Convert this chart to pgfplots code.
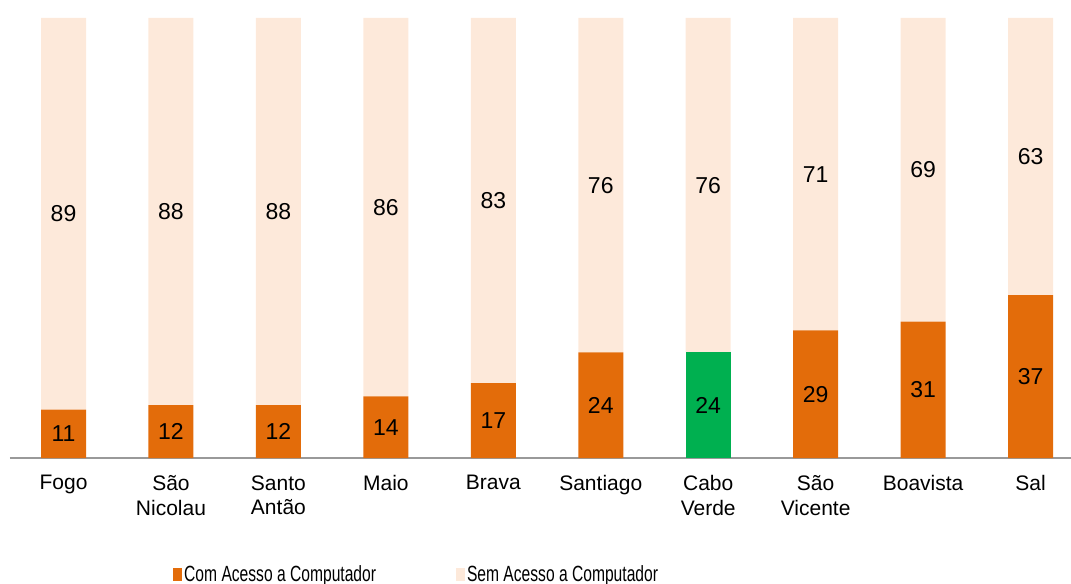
\documentclass[border=0pt]{standalone}
\usepackage{fontspec}
\setmainfont{Liberation Sans}
\newfontfamily\narrowfont[FakeStretch=0.71]{Liberation Sans}
\usepackage{pgfplots}
\usepackage{pgfplotstable}
\pgfplotsset{compat=1.18}

\definecolor{comor}{RGB}{227,108,10}
\definecolor{semor}{RGB}{253,233,218}
\definecolor{cvgreen}{RGB}{0,176,80}

\pgfplotstableread{
x com green sem lc lg
0 11 0 89 11 {}
1 12 0 88 12 {}
2 12 0 88 12 {}
3 14 0 86 14 {}
4 17 0 83 17 {}
5 24 0 76 24 {}
6 0 24 76 {} 24
7 29 0 71 29 {}
8 31 0 69 31 {}
9 37 0 63 37 {}
}\data

\pgfplotsset{
  sq/.style={legend image code/.code={\fill[##1] (0bp,-6.5bp) rectangle (9bp,6.5bp);}},
}

\begin{document}
\begin{tikzpicture}
\begin{axis}[
    scale only axis,
    width=1061.2bp, height=440bp,
    ybar stacked,
    bar width=45bp,
    xmin=-0.5, xmax=9.377,
    ymin=0, ymax=100,
    enlargelimits=false,
    axis x line=bottom,
    axis y line=none,
    x axis line style={-, draw=black!40, line width=1.5bp},
    xtick=data,
    xtick style={draw=none},
    major tick length=0pt,
    xticklabels={Fogo,{São\\Nicolau},{Santo\\Antão},Maio,Brava,Santiago,{Cabo\\Verde},{São\\Vicente},Boavista,Sal},
    xticklabel style={font=\fontsize{21bp}{24.5bp}\selectfont, align=center, yshift=-14bp},
    point meta=explicit symbolic,
    nodes near coords,
    every node near coord/.style={anchor=center, font=\fontsize{23bp}{26bp}\selectfont, text=black},
    legend columns=2,
    legend style={at={(0.1538,-0.2641)}, anchor=west, draw=none, fill=none, inner sep=0pt,
      font=\narrowfont\fontsize{22bp}{24bp}\selectfont,
      /tikz/every even column/.append style={column sep=78bp}},
    clip=false,
]
\addplot[fill=comor, draw=none, sq] table[x=x, y=com, meta=lc] {\data};
\addplot[fill=cvgreen, draw=none, sq] table[x=x, y=green, meta=lg] {\data};
\addplot[fill=semor, draw=none, sq] table[x=x, y=sem, meta=sem] {\data};
\legend{Com Acesso a Computador,,Sem Acesso a Computador}
\end{axis}
\pgfresetboundingbox
\path[use as bounding box] (-9.8bp,-126bp) rectangle (1061.2bp,458bp);
\end{tikzpicture}
\end{document}
